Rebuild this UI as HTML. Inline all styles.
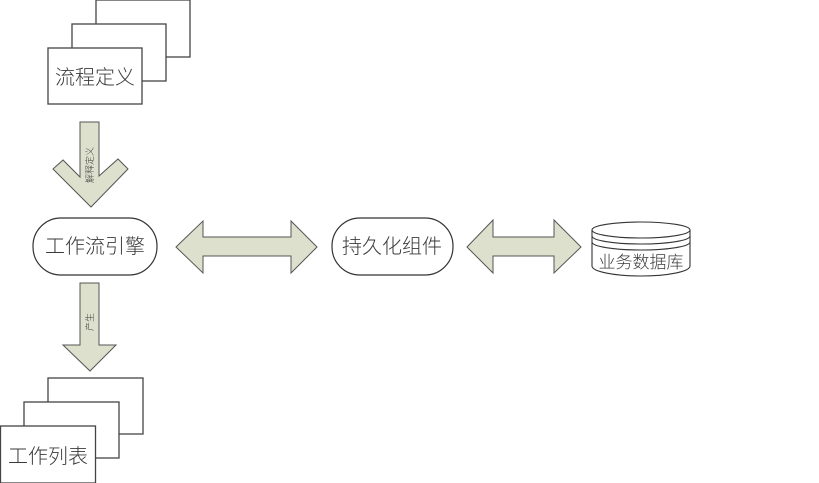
<!DOCTYPE html>
<html><head><meta charset="utf-8"><style>
html,body{margin:0;padding:0;background:#fff;}
svg{display:block;}
text{font-family:"Liberation Sans","Noto Sans CJK SC",sans-serif;fill:#3a3a3a;font-weight:300;}
</style></head><body>
<svg width="819" height="483" viewBox="0 0 819 483" xmlns="http://www.w3.org/2000/svg">
<g stroke="#444" stroke-width="1.3" fill="#fff">
<rect x="96" y="0" width="94" height="57"/>
<rect x="72" y="24" width="94" height="57"/>
<rect x="48" y="48" width="94" height="56"/>
</g>
<text x="95" y="84" font-size="20" text-anchor="middle">流程定义</text>

<polygon points="80,122 99,122 99,176 118,159 128,169 91,207 53,169 63,160 80,177" fill="#dde0cc" stroke="#555" stroke-width="1"/>
<text transform="translate(93,165) rotate(-90)" font-size="9" text-anchor="middle">解释定义</text>

<rect x="33" y="218" width="124" height="57" rx="28" ry="28" fill="#fff" stroke="#333" stroke-width="1.2"/>
<text x="95" y="253" font-size="20" text-anchor="middle">工作流引擎</text>

<polygon points="176,247 203,221 203,237 291,237 291,221 317,247 291,273 291,256 203,256 203,273" fill="#dde0cc" stroke="#555" stroke-width="1"/>

<rect x="332" y="218" width="121" height="57" rx="28" ry="28" fill="#fff" stroke="#333" stroke-width="1.2"/>
<text x="392" y="253" font-size="20" text-anchor="middle">持久化组件</text>

<polygon points="467,247 493,220 493,237 554,237 554,220 581,247 554,273 554,256 493,256 493,273" fill="#dde0cc" stroke="#555" stroke-width="1"/>

<g stroke="#333" stroke-width="1.1" fill="#fff">
<path d="M592,230 L592,266 A49,10 0 0 0 690,266 L690,230"/>
<ellipse cx="641" cy="230" rx="49" ry="8"/>
<path d="M592,236 A49,8 0 0 0 690,236" fill="none"/>
<path d="M592,242 A49,8 0 0 0 690,242" fill="none"/>
</g>
<text x="641" y="268" font-size="17" text-anchor="middle">业务数据库</text>

<polygon points="80,283 99,283 99,345 116,345 90,371 63,345 80,345" fill="#dde0cc" stroke="#555" stroke-width="1"/>
<text transform="translate(93,322) rotate(-90)" font-size="9" text-anchor="middle">产生</text>

<g stroke="#444" stroke-width="1.3" fill="#fff">
<rect x="48" y="378" width="95" height="56"/>
<rect x="24" y="402" width="95" height="56"/>
<rect x="0.5" y="426" width="95" height="57"/>
</g>
<text x="48" y="463" font-size="20" text-anchor="middle">工作列表</text>
</svg>
</body></html>
